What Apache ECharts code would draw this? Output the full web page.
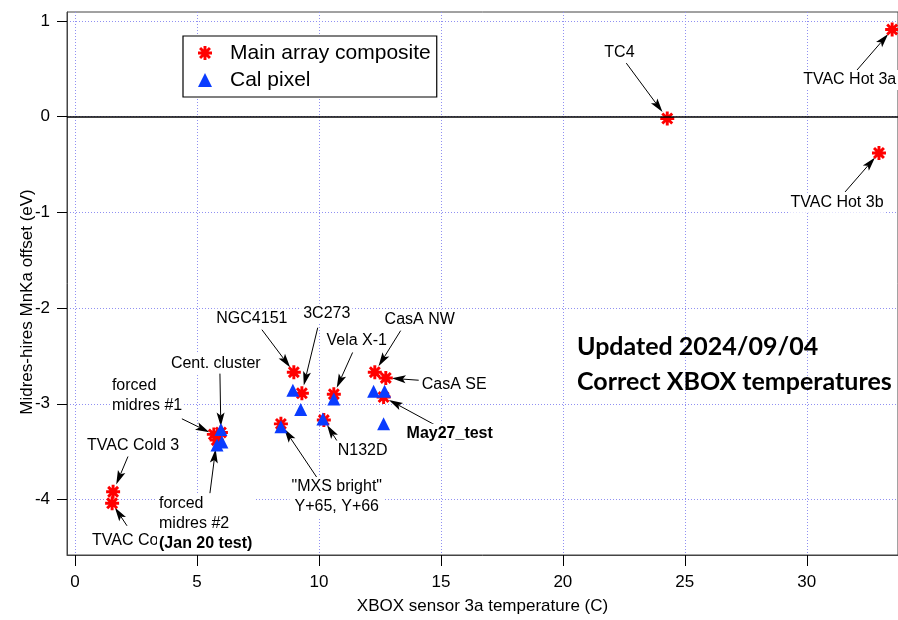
<!DOCTYPE html>
<html>
<head>
<meta charset="utf-8">
<script src="https://cdn.jsdelivr.net/npm/echarts@6/dist/echarts.min.js"></script>
<style>
html,body{margin:0;padding:0;background:#fff;}
#chart{width:898px;height:620px;}
</style>
</head>
<body>
<div id="chart"></div>
<script>
// ---------------- data ----------------
const xTicks = [0, 5, 10, 15, 20, 25, 30];
const yTicks = [1, 0, -1, -2, -3, -4];

const mainNames = ['TVAC Hot 3a','TC4','TVAC Hot 3b','NGC4151','3C273','Vela X-1','CasA NW','CasA SE','May27_test','N132D','MXS bright','Cent. cluster','forced midres #1','forced midres #2','TVAC Cold 3','TVAC Cold 3b'];
const mainX = [33.50, 24.28, 32.96, 8.97, 9.30, 10.61, 12.29, 12.74, 12.65, 10.20, 8.44, 5.98, 5.69, 5.81, 1.56, 1.52];
const mainY = [0.91, -0.02, -0.38, -2.67, -2.89, -2.90, -2.67, -2.73, -2.93, -3.17, -3.21, -3.30, -3.32, -3.38, -3.92, -4.04];

const calNames = ['NGC4151','3C273','Vela X-1','CasA NW','CasA SE','May27_test','N132D','MXS bright','Cent. cluster','forced midres #1','forced midres #2'];
const calX = [8.93, 9.25, 10.61, 12.24, 12.69, 12.65, 10.16, 8.44, 5.98, 6.02, 5.82];
const calY = [-2.86, -3.06, -2.95, -2.87, -2.87, -3.21, -3.16, -3.24, -3.27, -3.40, -3.43];

// annotation layout (text anchor, arrow start) in data units; target = index in main arrays
const annotations = [
  {text:'TC4', tx:22.32, ty:0.673, sx:22.60, sy:0.559, target:1, align:'center', gap:8},
  {text:'TVAC Hot 3a', tx:29.77, ty:0.383, sx:32.06, sy:0.487, target:0, align:'left', gap:6},
  {text:'TVAC Hot 3b', tx:31.24, ty:-0.901, sx:31.57, sy:-0.787, target:2, align:'center', gap:6},
  {text:'NGC4151', tx:7.25, ty:-2.112, sx:7.66, sy:-2.226, target:3, align:'center', gap:6},
  {text:'3C273', tx:10.32, ty:-2.060, sx:9.95, sy:-2.205, target:4, align:'center', gap:8},
  {text:'Vela X-1', tx:11.55, ty:-2.340, sx:11.38, sy:-2.464, target:5, align:'center', gap:7},
  {text:'CasA NW', tx:14.13, ty:-2.122, sx:13.35, sy:-2.236, target:6, align:'center', gap:7},
  {text:'CasA SE', tx:14.13, ty:-2.795, sx:14.09, sy:-2.754, target:7, align:'left', gap:6},
  {text:'{b|May27_test}', tx:15.36, ty:-3.313, sx:14.74, sy:-3.219, target:8, align:'center', gap:6},
  {text:'N132D', tx:11.79, ty:-3.489, sx:10.81, sy:-3.416, target:9, align:'center', gap:6},
  {text:'"MXS bright"\nY+65, Y+66', tx:10.73, ty:-3.975, sx:9.91, sy:-3.768, target:10, align:'center', gap:6},
  {text:'Cent. cluster', tx:5.77, ty:-2.578, sx:5.94, sy:-2.681, target:11, align:'center', gap:6},
  {text:'forced\nmidres #1', tx:1.43, ty:-2.919, sx:4.38, sy:-3.157, target:12, align:'left', gap:5},
  {text:'TVAC Cold 3', tx:2.38, ty:-3.437, sx:2.17, sy:-3.551, target:14, align:'center', gap:8},
  {text:'TVAC Cold 3b', tx:0.614, ty:-4.431, sx:2.13, sy:-4.275, target:15, align:'left', gap:5},
  {text:'forced\nmidres #2\n{b|(Jan 20 test)}', tx:3.36, ty:-4.255, sx:5.53, sy:-3.934, target:13, align:'left', gap:9}
];

// ---------------- symbols ----------------
function asteriskPath() {
  const L = 10, w = 2.1;
  let d = '';
  for (let k = 0; k < 4; k++) {
    const a = k * Math.PI / 4;
    const ux = Math.cos(a), uy = Math.sin(a);
    const nx = -uy, ny = ux;
    const p = [
      [ L*ux + w*nx,  L*uy + w*ny],
      [-L*ux + w*nx, -L*uy + w*ny],
      [-L*ux - w*nx, -L*uy - w*ny],
      [ L*ux - w*nx,  L*uy - w*ny]
    ];
    d += 'M' + p.map(q => q[0].toFixed(2) + ',' + q[1].toFixed(2)).join('L') + 'Z';
  }
  return 'path://' + d;
}
const ASTERISK = asteriskPath();

const FONT = 'Liberation Sans';
const GRIDLINE = {color: '#9090f2', type: [1, 2], width: 1};

const chart = echarts.init(document.getElementById('chart'), null, {renderer: 'canvas'});

const option = {
  backgroundColor: '#fff',
  animation: false,
  textStyle: {fontFamily: FONT},
  grid: {left: 67, right: -1, top: 12, bottom: 60, show: true, borderColor: '#444', borderWidth: 1},
  legend: {
    data: ['Main array composite', 'Cal pixel'],
    orient: 'vertical', left: 183, top: 36,
    backgroundColor: '#fff', borderColor: '#000', borderWidth: 1.2,
    padding: [6, 6, 6, 15], itemGap: 5, itemWidth: 14, itemHeight: 14,
    textStyle: {fontSize: 21, fontFamily: FONT, color: '#000', padding: [0, 0, 0, 13], lineHeight: 22}
  },
  xAxis: {
    type: 'value', min: -0.33, max: 33.74,
    name: 'XBOX sensor 3a temperature (C)', nameLocation: 'middle', nameGap: 43,
    nameTextStyle: {fontSize: 17, color: '#000', fontFamily: FONT},
    axisLine: {show: true, onZero: false, lineStyle: {color: '#444'}},
    axisTick: {show: true, inside: false, length: 11, lineStyle: {color: '#000', width: 1}, customValues: xTicks},
    axisLabel: {fontSize: 17, color: '#000', margin: 19, customValues: xTicks},
    splitLine: {show: true, lineStyle: GRIDLINE}
  },
  yAxis: {
    type: 'value', min: -4.58, max: 1.093,
    axisLine: {show: true, onZero: false, lineStyle: {color: '#444'}},
    axisTick: {show: true, inside: false, length: 10, lineStyle: {color: '#000', width: 1}, customValues: yTicks},
    axisLabel: {fontSize: 17, color: '#000', margin: 17, customValues: yTicks},
    splitLine: {show: true, lineStyle: GRIDLINE}
  },
  graphic: [
    {
      type: 'text', left: 577, top: 329, z: 100,
      style: {text: 'Updated 2024/09/04\nCorrect XBOX temperatures', font: 'bold 25px Lato', lineHeight: 35, fill: '#000'}
    },
    {
      type: 'text', x: 27, y: 302, rotation: Math.PI / 2, z: 100,
      style: {text: 'Midres-hires MnKa offset (eV)', fontSize: 17, fontFamily: FONT, fill: '#000', align: 'center', verticalAlign: 'middle'}
    }
  ],
  series: [
    {
      type: 'custom', name: 'annotations', z: 1, silent: true,
      data: annotations.map(a => [a.tx, a.ty]),
      encode: {x: 0, y: 1},
      renderItem: function (params, api) {
        const a = annotations[params.dataIndex];
        const s = api.coord([a.sx, a.sy]);
        const t = api.coord([mainX[a.target], mainY[a.target]]);
        const p = api.coord([a.tx, a.ty]);
        const dx = t[0] - s[0], dy = t[1] - s[1];
        const len = Math.hypot(dx, dy);
        const ux = dx / len, uy = dy / len, nx = -uy, ny = ux;
        const tip = [t[0] - ux * a.gap, t[1] - uy * a.gap];
        const head = 14, half = 4, notch = 11;
        const base = [tip[0] - ux * head, tip[1] - uy * head];
        const nb = [tip[0] - ux * notch, tip[1] - uy * notch];
        return {
          type: 'group',
          children: [
            {type: 'line', shape: {x1: s[0], y1: s[1], x2: nb[0], y2: nb[1]}, style: {stroke: '#000', lineWidth: 1}},
            {type: 'polygon', shape: {points: [tip, [base[0] + nx * half, base[1] + ny * half], nb, [base[0] - nx * half, base[1] - ny * half]]}, style: {fill: '#000'}},
            {type: 'text', x: p[0], y: p[1], style: {
              text: a.text, fontSize: 16, fontFamily: FONT, fill: '#000',
              align: a.align, verticalAlign: 'middle', lineHeight: 20,
              backgroundColor: '#fff', padding: [0, 2],
              rich: {b: {fontSize: 16, fontFamily: FONT, fontWeight: 'bold', fill: '#000', lineHeight: 20}}
            }}
          ]
        };
      }
    },
    {
      type: 'scatter', name: 'Main array composite', z: 3,
      symbol: ASTERISK, symbolSize: 14,
      itemStyle: {color: '#ff0000', opacity: 1},
      data: mainX.map((x, i) => ({name: mainNames[i], value: [x, mainY[i]]})),
      markLine: {
        silent: true, symbol: ['none', 'none'], label: {show: false},
        lineStyle: {color: '#000', width: 1.5, type: 'solid'},
        data: [{yAxis: 0}]
      }
    },
    {
      type: 'scatter', name: 'Cal pixel', z: 4,
      symbol: 'triangle', symbolSize: 13,
      itemStyle: {color: '#0a3cff', opacity: 1},
      data: calX.map((x, i) => ({name: calNames[i], value: [x, calY[i]]}))
    }
  ]
};
chart.setOption(option);
</script>
</body>
</html>
